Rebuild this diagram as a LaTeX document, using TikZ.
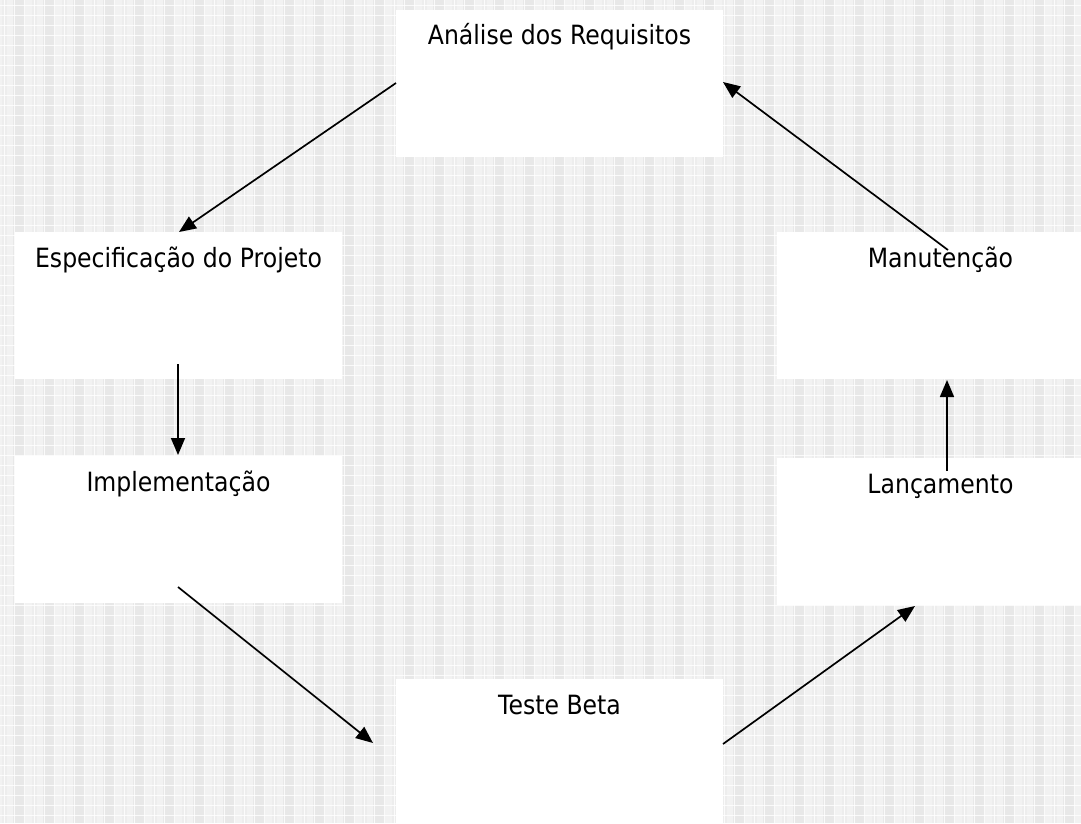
\documentclass[tikz,border=0pt]{standalone}
\usepackage{fontspec}
\setmainfont{DejaVu Sans}[FakeStretch=0.89]
\usetikzlibrary{arrows.meta}
\definecolor{bgbase}{HTML}{F2F2F2}
\definecolor{bgdark}{HTML}{E8E8E8}
\definecolor{bgmid}{HTML}{EDEDED}
\newcommand{\bxt}[1]{\parbox[t][147pt][t]{327pt}{\centering\rule{0pt}{35pt}#1}}
\tikzset{
  stagebox/.style={fill=white, inner sep=0pt, outer sep=0pt, anchor=north west,
    font=\fontsize{26.5pt}{30pt}\selectfont, text=black},
  flow/.style={line width=1.7pt, -{Triangle[length=17pt,width=14pt]}},
}
\begin{document}
\begin{tikzpicture}[x=1pt,y=-1pt]
\useasboundingbox (0,0) rectangle (1081,823);
\clip (0,0) rectangle (1081,823);
% background pattern
\fill[bgbase] (0,0) rectangle (1081,823);
\foreach \i in {0,...,36} {
  \fill[bgdark] ({30*\i+13},0) rectangle ({30*\i+25},823);
  \fill[bgmid] ({30*\i+2},0) rectangle ({30*\i+7},823);
}
\foreach \i in {0,...,109} {
  \draw[white, opacity=0.8, line width=1pt] ({10*\i+4},0) -- ({10*\i+4},823);
}
\foreach \j in {0,...,83} {
  \draw[white, opacity=0.8, line width=1pt] (0,{10*\j+5}) -- (1081,{10*\j+5});
}
% stages
\node[stagebox] (ana) at (396,9.5) {\bxt{Análise dos Requisitos}};
\node[stagebox] (esp) at (15,232) {\bxt{Especificação do Projeto}};
\node[stagebox] (imp) at (15,456) {\bxt{Implementação}};
\node[stagebox] (tes) at (396,679) {\bxt{Teste Beta}};
\node[stagebox] (lan) at (777,458) {\bxt{Lançamento}};
\node[stagebox] (man) at (777,232) {\bxt{Manutenção}};
% connector end points
\coordinate (a1s) at (396,83);  \coordinate (a1e) at (179,232);
\coordinate (a2s) at (178,364); \coordinate (a2e) at (178,455);
\coordinate (a3s) at (178,587); \coordinate (a3e) at (373,743);
\coordinate (a4s) at (723,744); \coordinate (a4e) at (915,606);
\coordinate (a5s) at (947,471); \coordinate (a5e) at (947,380);
\coordinate (a6s) at (948,250); \coordinate (a6e) at (723,82);
\draw[flow] (a1s) -- (a1e);
\draw[flow] (a2s) -- (a2e);
\draw[flow] (a3s) -- (a3e);
\draw[flow] (a4s) -- (a4e);
\draw[flow] (a5s) -- (a5e);
\draw[flow] (a6s) -- (a6e);
\end{tikzpicture}
\end{document}
